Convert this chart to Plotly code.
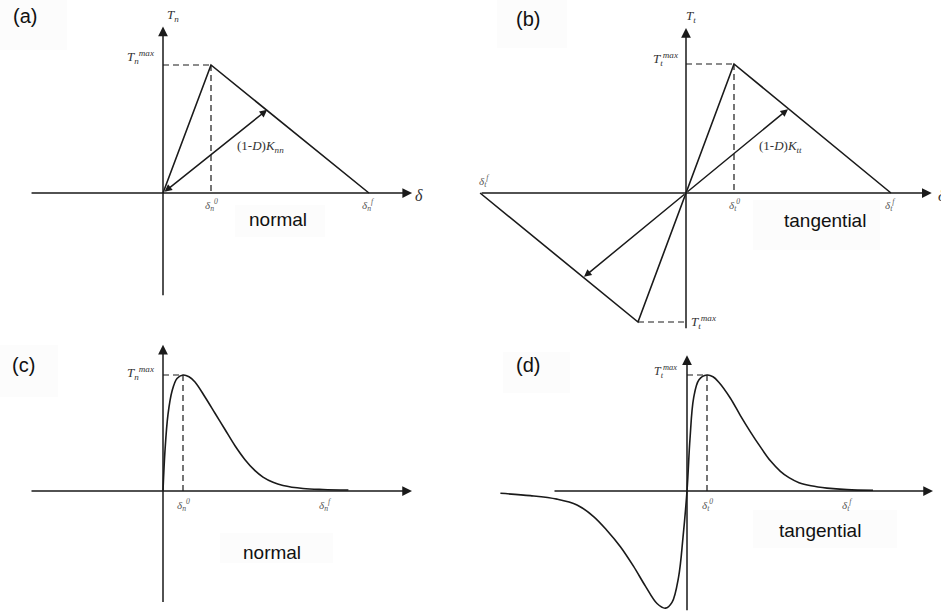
import plotly.graph_objects as go

W, H = 941, 616

# ---------------- data (schematic units: delta / delta0, T / Tmax) ----------------
# (a) bilinear normal law
a_delta = [0.0, 1.0, 4.29]
a_T = [0.0, 1.0, 0.0]
a_unload = [2.17, 0.65]          # point on softening branch reached by (1-D)Knn

# (b) bilinear tangential law
b_delta = [-4.29, -1.0, 0.0, 1.0, 4.27]
b_T = [0.0, -1.0, 0.0, 1.0, 0.0]
b_unload_pos = [2.125, 0.65]
b_unload_neg = [-2.125, -0.65]

# (c) exponential normal law
c_delta = [0.0, 0.1, 0.25, 0.45, 0.7, 1.0, 1.3, 1.6, 2.1, 2.6, 3.1, 3.6, 4.1, 4.6, 5.0, 5.5, 6.0, 7.0, 8.0, 9.27]
c_T = [0.0, 0.35, 0.66, 0.86, 0.97, 1.0, 0.985, 0.94, 0.81, 0.67, 0.53, 0.39, 0.27, 0.175, 0.12, 0.075, 0.048,
       0.022, 0.013, 0.008]

# (d) exponential tangential law
d_delta = [-9.33, -7.83, -6.5, -5.5, -4.67, -4.0, -3.33, -2.67, -2.08, -1.5, -1.08, -0.75, -0.42, -0.2,
           0.0, 0.15, 0.33, 0.6, 1.0, 1.3, 1.58, 2.17, 2.67, 3.17, 3.67, 4.17, 4.67, 5.1, 5.6, 6.2, 7.0, 8.0, 9.3]
d_T = [-0.02, -0.04, -0.07, -0.12, -0.22, -0.34, -0.48, -0.65, -0.82, -0.97, -1.01, -0.96, -0.74, -0.40,
       0.0, 0.45, 0.80, 0.96, 1.0, 0.985, 0.94, 0.80, 0.65, 0.51, 0.38, 0.26, 0.17, 0.115, 0.072, 0.045,
       0.025, 0.012, 0.006]

# ---------------- panel geometry (pixel origin and pixel per unit) ----------------
panels = {
    "a": dict(ox=163, oy=193, ux=48, uy=128, ax="x", ay="y"),
    "b": dict(ox=686, oy=193, ux=48, uy=129, ax="x2", ay="y2"),
    "c": dict(ox=163, oy=491, ux=20, uy=116, ax="x3", ay="y3"),
    "d": dict(ox=687, oy=491, ux=20, uy=116, ax="x4", ay="y4"),
}

INK = "#1a1a1a"
SERIF = "Liberation Serif"
SANS = "Liberation Sans"

fig = go.Figure()
layout = dict(width=W, height=H, margin=dict(l=0, r=0, t=0, b=0),
              paper_bgcolor="white", plot_bgcolor="rgba(0,0,0,0)", showlegend=False)

for k, p in panels.items():
    xn = "xaxis" + p["ax"][1:]
    yn = "yaxis" + p["ay"][1:]
    layout[xn] = dict(domain=[0, 1], range=[(0 - p["ox"]) / p["ux"], (W - p["ox"]) / p["ux"]],
                      visible=False, fixedrange=True, anchor=p["ay"])
    layout[yn] = dict(domain=[0, 1], range=[(p["oy"] - H) / p["uy"], p["oy"] / p["uy"]],
                      visible=False, fixedrange=True, anchor=p["ax"])
fig.update_layout(**layout)


def line(p, xs, ys, dash=None, width=1.6, shape="linear"):
    fig.add_trace(go.Scatter(x=xs, y=ys, mode="lines", xaxis=p["ax"], yaxis=p["ay"],
                             line=dict(color=INK, width=width, dash=dash, shape=shape, smoothing=1.0),
                             hoverinfo="skip"))


annots = []


def arrow(p, tail, head, both=False, size=1.1):
    a = dict(x=head[0], y=head[1], ax=tail[0], ay=tail[1], xref=p["ax"], yref=p["ay"],
             axref=p["ax"], ayref=p["ay"], showarrow=True, arrowhead=2, arrowsize=size,
             arrowwidth=1.5, arrowcolor=INK, text="", standoff=0, startstandoff=0)
    if both:
        a.update(arrowside="end+start", startarrowhead=2, startarrowsize=size)
    annots.append(a)


def label(p, x, y, text, size=13, family=SERIF, color="#333", xanchor="center", yanchor="middle"):
    annots.append(dict(x=x, y=y, xref=p["ax"], yref=p["ay"], text=text, showarrow=False,
                       font=dict(family=family, size=size, color=color),
                       xanchor=xanchor, yanchor=yanchor))


DASH = "6px,4px"

# faint label backgrounds
for (x0, y0, x1, y1) in [(0, 0, 67, 50), (235, 205, 325, 237), (497, 0, 567, 48), (753, 200, 880, 250),
                         (0, 345, 58, 397), (220, 533, 333, 563), (503, 352, 570, 393), (753, 510, 897, 548)]:
    fig.add_shape(type="rect", xref="paper", yref="paper", x0=x0 / W, x1=x1 / W,
                  y0=1 - y1 / H, y1=1 - y0 / H, fillcolor="#fcfcfc", line_width=0, layer="below")

# ---------------- (a) ----------------
p = panels["a"]
arrow(p, (-2.77, 0), (5.19, 0), size=1.3)
arrow(p, (0, -0.81), (0, 1.30), size=1.3)
line(p, a_delta, a_T)
line(p, [0, a_delta[1]], [a_T[1], a_T[1]], dash=DASH, width=1.2)
line(p, [a_delta[1], a_delta[1]], [a_T[1], 0], dash=DASH, width=1.2)
arrow(p, (0, 0), tuple(a_unload), both=True, size=1.0)
label(p, 0.05, 1.39, "<i>T<sub>n</sub></i>", xanchor="left")
label(p, -0.15, 1.06, "<i>T<sub>n</sub><sup>max</sup></i>", xanchor="right")
label(p, a_delta[1], -0.09, "<i>δ<sub>n</sub><sup>0</sup></i>", size=11, color="#555")
label(p, a_delta[2], -0.09, "<i>δ<sub>n</sub><sup>f</sup></i>", size=11, color="#555")
label(p, 5.2, -0.02, "<i>δ</i>", size=16, xanchor="left")
label(p, 2.04, 0.36, "(1-<i>D</i>)<i>K<sub>nn</sub></i>", size=13)
label(p, 2.4, -0.21, "normal", size=19, family=SANS, color="#111")
label(p, -2.88, 1.38, "(a)", size=20, family=SANS, color="#111")

# ---------------- (b) ----------------
p = panels["b"]
arrow(p, (-4.29, 0), (5.12, 0), size=1.3)
arrow(p, (0, -1.06), (0, 1.28), size=1.3)
line(p, b_delta, b_T)
line(p, [0, b_delta[3]], [b_T[3], b_T[3]], dash=DASH, width=1.2)
line(p, [b_delta[3], b_delta[3]], [b_T[3], 0], dash=DASH, width=1.2)
line(p, [b_delta[1], 0], [b_T[1], b_T[1]], dash=DASH, width=1.2)
arrow(p, (0, 0), tuple(b_unload_pos), size=1.0)
arrow(p, (0, 0), tuple(b_unload_neg), size=1.0)
label(p, -0.05, 1.37, "<i>T<sub>t</sub></i>", xanchor="left")
label(p, -0.12, 1.04, "<i>T<sub>t</sub><sup>max</sup></i>", xanchor="right")
label(p, 0.06, -1.0, "<i>T<sub>t</sub><sup>max</sup></i>", xanchor="left")
label(p, b_delta[3], -0.09, "<i>δ<sub>t</sub><sup>0</sup></i>", size=11, color="#555")
label(p, b_delta[4], -0.09, "<i>δ<sub>t</sub><sup>f</sup></i>", size=11, color="#555")
label(p, b_delta[0] + 0.1, 0.09, "<i>δ<sub>t</sub><sup>f</sup></i>", size=11, color="#555")
label(p, 5.2, -0.02, "<i>δ</i>", size=16, xanchor="left")
label(p, 1.96, 0.36, "(1-<i>D</i>)<i>K<sub>tt</sub></i>", size=13)
label(p, 2.9, -0.21, "tangential", size=19, family=SANS, color="#111")
label(p, -3.29, 1.35, "(b)", size=20, family=SANS, color="#111")

# ---------------- (c) ----------------
p = panels["c"]
arrow(p, (-6.65, 0), (12.45, 0), size=1.3)
arrow(p, (0, -0.97), (0, 1.26), size=1.3)
line(p, c_delta, c_T, shape="spline")
line(p, [0, 1.0], [1.0, 1.0], dash=DASH, width=1.2)
line(p, [1.0, 1.0], [1.0, 0], dash=DASH, width=1.2)
label(p, -0.35, 1.02, "<i>T<sub>n</sub><sup>max</sup></i>", xanchor="right")
label(p, 1.0, -0.12, "<i>δ<sub>n</sub><sup>0</sup></i>", size=11, color="#555")
label(p, 8.1, -0.12, "<i>δ<sub>n</sub><sup>f</sup></i>", size=11, color="#555")
label(p, 5.45, -0.53, "normal", size=19, family=SANS, color="#111")
label(p, -7.0, 1.09, "(c)", size=20, family=SANS, color="#111")

# ---------------- (d) ----------------
p = panels["d"]
arrow(p, (-6.7, 0), (12.3, 0), size=1.3)
arrow(p, (0, -1.04), (0, 1.17), size=1.3)
line(p, d_delta, d_T, shape="spline")
line(p, [0, 1.0], [1.0, 1.0], dash=DASH, width=1.2)
line(p, [1.0, 1.0], [1.0, 0], dash=DASH, width=1.2)
label(p, -0.4, 1.03, "<i>T<sub>t</sub><sup>max</sup></i>", xanchor="right", size=12)
label(p, 1.0, -0.12, "<i>δ<sub>t</sub><sup>0</sup></i>", size=11, color="#555")
label(p, 8.0, -0.12, "<i>δ<sub>t</sub><sup>f</sup></i>", size=11, color="#555")
label(p, 6.65, -0.34, "tangential", size=19, family=SANS, color="#111")
label(p, -7.95, 1.09, "(d)", size=20, family=SANS, color="#111")

fig.update_layout(annotations=annots)
fig.write_html("out.html", config={"displayModeBar": False},
               post_script="document.body.style.margin='0px';")
